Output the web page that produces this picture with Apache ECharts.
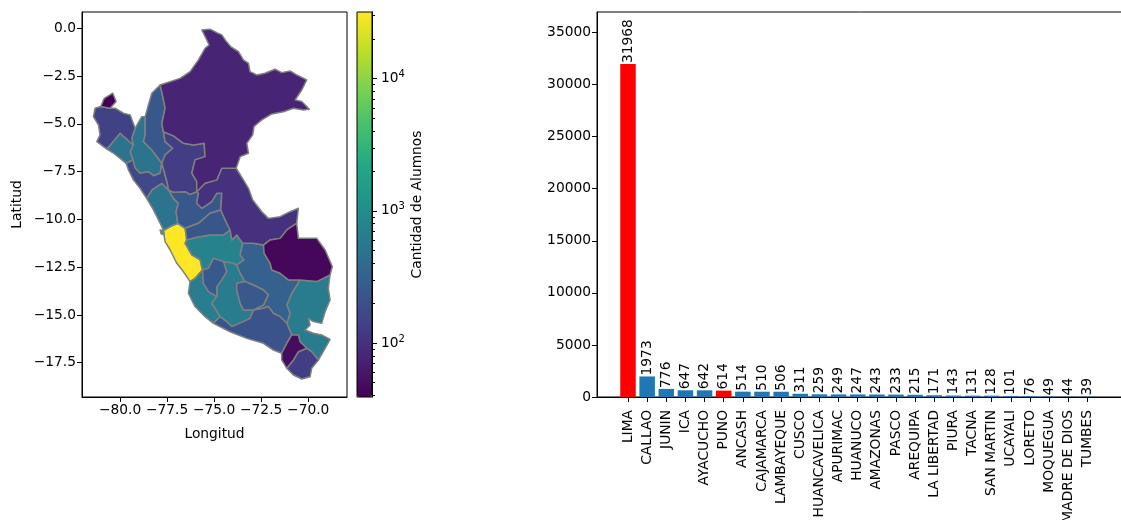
<!DOCTYPE html>
<html><head><meta charset="utf-8">
<style>html,body{margin:0;padding:0;background:#fff;overflow:hidden}#c{width:1121px;height:520px}</style>
<script src="https://cdn.jsdelivr.net/npm/echarts@6/dist/echarts.min.js"></script>
</head><body><div id="c"></div>
<script>
const categories = ['LIMA','CALLAO','JUNIN','ICA','AYACUCHO','PUNO','ANCASH','CAJAMARCA','LAMBAYEQUE','CUSCO','HUANCAVELICA','APURIMAC','HUANUCO','AMAZONAS','PASCO','AREQUIPA','LA LIBERTAD','PIURA','TACNA','SAN MARTIN','UCAYALI','LORETO','MOQUEGUA','MADRE DE DIOS','TUMBES'];
const alumnos = [31968,1973,776,647,642,614,514,510,506,311,259,249,247,243,233,215,171,143,131,128,101,76,49,44,39];
const highlighted = ['LIMA','PUNO'];
const barTicks = [0,5000,10000,15000,20000,25000,30000,35000];
const lonTicks = [-80,-77.5,-75,-72.5,-70];
const latTicks = [0,-2.5,-5,-7.5,-10,-12.5,-15,-17.5];
const cbMajor = [100,1000,10000];
const cbMinor = [40,50,60,70,80,90,200,300,400,500,600,700,800,900,2000,3000,4000,5000,6000,7000,8000,9000,20000,30000];
const viridis = ['#440154','#482475','#414487','#355f8d','#2a788e','#21918c','#22a884','#44bf70','#7ad151','#bddf26','#fde725'];

/* department outlines, [longitude, latitude] */
const TUMBES = [[-80.94,-4.07],[-80.76,-3.64],[-80.31,-3.37],[-80.13,-3.81],[-80.45,-4.16]];
const PIURA = [[-80.94,-4.07],[-81.24,-4.16],[-81.33,-4.60],[-81.06,-5.04],[-80.98,-5.56],[-81.15,-5.91],[-80.62,-6.30],[-79.92,-5.47],[-79.22,-6.09],[-79.31,-5.74],[-79.13,-5.21],[-79.39,-4.51],[-79.75,-4.42],[-80.18,-4.16],[-80.45,-4.16]];
const LAMBAYEQUE = [[-80.62,-6.30],[-79.92,-5.47],[-79.22,-6.09],[-79.39,-6.44],[-79.25,-6.87],[-79.60,-7.05],[-79.92,-6.79],[-80.27,-6.52]];
const LORETO = [[-75.61,-0.05],[-75.18,-0.01],[-74.82,-0.19],[-74.56,-0.31],[-74.35,-0.61],[-74.09,-0.92],[-73.68,-1.19],[-73.42,-1.62],[-73.15,-1.80],[-73.07,-2.24],[-72.72,-2.41],[-72.28,-2.32],[-71.75,-2.11],[-71.40,-2.29],[-70.96,-2.20],[-70.61,-2.41],[-70.08,-2.67],[-70.34,-3.20],[-70.69,-3.72],[-70.34,-3.81],[-69.94,-4.21],[-70.25,-4.25],[-70.78,-4.16],[-71.31,-4.34],[-71.92,-4.46],[-72.45,-4.77],[-72.86,-5.12],[-72.93,-5.56],[-73.24,-6.00],[-73.15,-6.52],[-73.59,-6.70],[-73.80,-7.31],[-74.56,-7.31],[-74.82,-7.92],[-75.44,-8.10],[-75.88,-8.54],[-75.88,-8.01],[-76.14,-7.57],[-75.97,-6.87],[-75.44,-6.70],[-75.49,-6.00],[-76.05,-6.09],[-76.58,-6.00],[-77.11,-5.61],[-77.64,-5.39],[-77.72,-4.95],[-77.55,-4.16],[-77.67,-3.55],[-77.81,-2.94],[-76.76,-2.59],[-76.23,-2.24],[-75.79,-1.62],[-75.44,-1.01],[-75.23,-0.84],[-75.39,-0.49]];
const AMAZONAS = [[-77.81,-2.94],[-77.67,-3.55],[-77.55,-4.16],[-77.72,-4.95],[-77.64,-5.39],[-77.55,-5.91],[-77.14,-6.26],[-77.55,-6.61],[-77.72,-7.05],[-78.25,-6.35],[-78.69,-5.91],[-78.60,-5.56],[-78.60,-4.60],[-78.43,-3.99],[-78.25,-3.37]];
const CAJAMARCA = [[-78.60,-4.60],[-78.60,-5.56],[-78.69,-5.91],[-78.25,-6.35],[-77.72,-7.05],[-77.81,-7.57],[-78.16,-7.70],[-78.43,-7.49],[-78.87,-7.57],[-79.13,-7.31],[-79.25,-6.87],[-79.39,-6.44],[-79.22,-6.09],[-79.31,-5.74],[-79.13,-5.21],[-78.78,-4.60]];
const SAN_MARTIN = [[-77.64,-5.39],[-77.11,-5.61],[-76.58,-6.00],[-76.05,-6.09],[-75.49,-6.00],[-75.44,-6.70],[-75.97,-6.87],[-76.14,-7.57],[-75.88,-8.01],[-75.88,-8.54],[-76.23,-8.68],[-76.49,-8.54],[-77.11,-8.57],[-77.37,-8.45],[-77.43,-8.10],[-77.72,-7.05],[-77.55,-6.61],[-77.14,-6.26],[-77.55,-5.91]];
const LA_LIBERTAD = [[-79.60,-7.05],[-79.25,-6.87],[-79.13,-7.31],[-78.87,-7.57],[-78.43,-7.49],[-78.16,-7.70],[-77.81,-7.57],[-77.72,-7.05],[-77.43,-8.10],[-77.37,-8.45],[-77.72,-8.10],[-78.25,-8.45],[-78.52,-8.89],[-78.87,-8.36],[-79.22,-7.92],[-79.48,-7.40]];
const ANCASH = [[-77.72,-8.10],[-77.37,-8.45],[-77.11,-8.89],[-76.85,-9.15],[-76.97,-9.59],[-76.88,-10.20],[-77.28,-10.37],[-77.64,-10.58],[-77.72,-10.37],[-78.16,-9.50],[-78.52,-8.89],[-78.25,-8.45]];
const HUANUCO = [[-77.37,-8.45],[-77.11,-8.57],[-76.49,-8.54],[-76.23,-8.68],[-75.88,-8.54],[-75.79,-8.62],[-75.88,-9.15],[-75.61,-9.41],[-75.09,-9.06],[-74.82,-8.62],[-74.56,-8.62],[-74.61,-9.50],[-75.18,-9.67],[-75.79,-10.20],[-76.49,-10.46],[-76.88,-10.20],[-76.97,-9.59],[-76.85,-9.15],[-77.11,-8.89]];
const PASCO = [[-76.49,-10.46],[-75.79,-10.20],[-75.18,-9.67],[-74.61,-9.50],[-74.38,-10.02],[-74.12,-10.55],[-74.47,-10.81],[-75.18,-10.81],[-75.88,-10.93],[-76.41,-11.07]];
const JUNIN = [[-76.41,-11.07],[-75.88,-10.93],[-75.18,-10.81],[-74.47,-10.81],[-74.12,-10.55],[-74.03,-11.07],[-73.77,-10.81],[-73.45,-11.25],[-73.59,-11.86],[-73.38,-12.12],[-73.77,-12.39],[-74.47,-12.21],[-75.00,-12.04],[-75.26,-12.56],[-75.58,-12.65],[-75.70,-12.12],[-76.14,-11.86],[-76.49,-11.25]];
const LIMA = [[-76.88,-10.20],[-76.49,-10.46],[-76.41,-11.07],[-76.49,-11.25],[-76.14,-11.86],[-75.70,-12.12],[-75.58,-12.65],[-75.97,-13.09],[-76.23,-13.26],[-76.58,-12.74],[-76.93,-12.30],[-77.28,-11.60],[-77.55,-11.16],[-77.64,-10.58],[-77.28,-10.37]];
const CALLAO = [[-77.81,-10.55],[-77.64,-10.58],[-77.60,-10.80],[-77.76,-10.75]];
const HUANCAVELICA = [[-75.00,-12.04],[-74.47,-12.21],[-74.30,-12.74],[-74.56,-13.17],[-74.82,-13.52],[-74.82,-14.05],[-75.26,-13.79],[-75.53,-13.35],[-75.58,-12.65],[-75.26,-12.56]];
const ICA = [[-75.97,-13.09],[-75.58,-12.65],[-75.53,-13.35],[-75.26,-13.79],[-74.82,-14.05],[-75.09,-14.40],[-74.91,-14.66],[-74.65,-15.10],[-75.00,-15.45],[-75.44,-15.10],[-75.97,-14.57],[-76.32,-13.87],[-76.23,-13.26]];
const AYACUCHO = [[-74.47,-12.21],[-73.95,-12.30],[-73.77,-12.39],[-73.59,-12.82],[-73.33,-13.26],[-73.77,-13.35],[-73.77,-13.70],[-73.59,-14.40],[-73.42,-14.75],[-72.89,-14.75],[-73.07,-15.19],[-73.42,-15.36],[-74.03,-15.62],[-74.30,-15.36],[-74.65,-15.10],[-74.91,-14.66],[-75.09,-14.40],[-74.82,-14.05],[-74.82,-13.52],[-74.56,-13.17],[-74.30,-12.74]];
const APURIMAC = [[-73.77,-13.35],[-73.33,-13.26],[-72.89,-13.44],[-72.36,-13.70],[-72.10,-13.96],[-72.36,-14.49],[-72.89,-14.75],[-73.42,-14.75],[-73.59,-14.40],[-73.77,-13.70]];
const CUSCO = [[-73.45,-11.25],[-72.89,-11.25],[-72.36,-11.34],[-72.33,-11.77],[-72.01,-12.30],[-71.92,-12.65],[-71.48,-12.82],[-71.05,-13.17],[-70.43,-13.17],[-70.87,-13.87],[-71.13,-14.49],[-70.96,-14.92],[-71.13,-15.45],[-71.48,-15.10],[-71.84,-14.92],[-72.10,-14.57],[-72.36,-14.66],[-72.89,-14.75],[-72.36,-14.49],[-72.10,-13.96],[-72.36,-13.70],[-72.89,-13.44],[-73.33,-13.26],[-73.59,-12.82],[-73.77,-12.39],[-73.38,-12.12],[-73.59,-11.86]];
const MADRE_DE_DIOS = [[-70.61,-10.20],[-70.52,-10.99],[-69.55,-10.99],[-69.11,-11.60],[-68.73,-12.47],[-68.85,-12.91],[-69.55,-13.26],[-70.43,-13.17],[-71.05,-13.17],[-71.48,-12.82],[-71.92,-12.65],[-72.01,-12.30],[-72.33,-11.77],[-72.36,-11.34],[-72.01,-11.07],[-71.48,-10.99],[-71.13,-10.55]];
const UCAYALI = [[-74.56,-7.31],[-73.80,-7.31],[-73.42,-7.92],[-73.15,-8.36],[-72.93,-8.97],[-72.45,-9.59],[-72.10,-9.94],[-71.48,-9.85],[-70.96,-9.59],[-70.52,-9.41],[-70.61,-10.20],[-71.13,-10.55],[-71.48,-10.99],[-72.01,-11.07],[-72.36,-11.34],[-72.89,-11.25],[-73.45,-11.25],[-73.77,-10.81],[-74.03,-11.07],[-74.12,-10.55],[-74.38,-10.02],[-74.61,-9.50],[-74.56,-8.62],[-74.82,-8.62],[-75.09,-9.06],[-75.61,-9.41],[-75.88,-9.15],[-75.79,-8.62],[-75.88,-8.54],[-75.44,-8.10],[-74.82,-7.92]];
const PUNO = [[-70.43,-13.17],[-69.55,-13.26],[-68.85,-12.91],[-68.94,-13.61],[-68.85,-14.22],[-69.11,-14.84],[-69.29,-15.45],[-69.73,-15.36],[-69.99,-15.19],[-69.90,-15.54],[-70.17,-15.80],[-69.73,-15.97],[-69.29,-16.06],[-68.85,-16.29],[-69.06,-16.67],[-69.46,-17.37],[-69.82,-16.94],[-70.08,-16.76],[-70.43,-16.41],[-70.52,-16.06],[-70.87,-16.06],[-71.13,-15.45],[-70.96,-14.92],[-71.13,-14.49],[-70.87,-13.87]];
const MOQUEGUA = [[-70.87,-16.06],[-70.52,-16.06],[-70.43,-16.41],[-70.08,-16.76],[-70.52,-16.94],[-70.78,-17.37],[-71.13,-17.81],[-71.40,-17.37],[-71.40,-17.02],[-71.13,-16.50]];
const TACNA = [[-70.08,-16.76],[-69.82,-16.94],[-69.46,-17.37],[-69.82,-17.81],[-69.90,-18.25],[-70.34,-18.37],[-70.78,-18.16],[-71.13,-17.81],[-70.78,-17.37],[-70.52,-16.94]];
const AREQUIPA = [[-75.00,-15.45],[-74.65,-15.10],[-74.30,-15.36],[-74.03,-15.62],[-73.42,-15.36],[-73.07,-15.19],[-72.89,-14.75],[-72.36,-14.66],[-72.10,-14.57],[-71.84,-14.92],[-71.48,-15.10],[-71.13,-15.45],[-70.87,-16.06],[-71.13,-16.50],[-71.40,-17.02],[-71.84,-16.85],[-72.36,-16.50],[-73.24,-16.24],[-74.12,-15.89]];

const outlines = {LIMA,CALLAO,JUNIN,ICA,AYACUCHO,PUNO,ANCASH,CAJAMARCA,LAMBAYEQUE,CUSCO,HUANCAVELICA,APURIMAC,HUANUCO,AMAZONAS,PASCO,AREQUIPA,'LA LIBERTAD':LA_LIBERTAD,PIURA,TACNA,'SAN MARTIN':SAN_MARTIN,UCAYALI,LORETO,MOQUEGUA,'MADRE DE DIOS':MADRE_DE_DIOS,TUMBES};
/* the outlines were read with slightly rough axis ticks: calibrate against the exact ones */
const calibrate = p => [p[0]*1.00743+0.52, p[1]*0.99686-0.037];

const ink = '#000', font = 'DejaVu Sans', fs = 13.8;
const minus = v => v.toFixed(1).replace('-', '\u2212');
const log = Math.log10;
const axisBase = {axisLine:{show:true,onZero:false,lineStyle:{color:ink,width:1}},splitLine:{show:false},
  axisTick:{show:true,inside:false,length:5,lineStyle:{color:ink,width:1}}};
const lbl = o => Object.assign({color:ink,fontFamily:font,fontSize:fs,margin:6,hideOverlap:false,showMinLabel:true,showMaxLabel:true},o);
const nm = {color:ink,fontFamily:font,fontSize:fs};
const barPos = categories.map((c,i)=>i);

const chart = echarts.init(document.getElementById('c'),null,{renderer:'canvas'});
chart.setOption({
  animation:false,backgroundColor:'#fff',
  grid:[
    {left:82,top:12,width:265,height:385,show:true,borderColor:ink,borderWidth:1,z:5,outerBoundsMode:'none',containLabel:false},
    {left:597,top:12,width:530,height:385,show:true,borderColor:ink,borderWidth:1,outerBoundsMode:'none',containLabel:false},
    {left:357,top:12,width:15,height:385,show:true,borderColor:ink,borderWidth:1,z:5,outerBoundsMode:'none',containLabel:false}
  ],
  xAxis:[
    Object.assign({},axisBase,{type:'value',gridIndex:0,min:-82.02,max:-67.94,name:'Longitud',nameLocation:'middle',nameGap:30,nameTextStyle:nm,
      axisTick:Object.assign({},axisBase.axisTick,{customValues:lonTicks}),
      axisLabel:lbl({customValues:lonTicks,formatter:minus})}),
    Object.assign({},axisBase,{type:'value',gridIndex:1,min:-1.62,max:26.07,
      axisTick:Object.assign({},axisBase.axisTick,{customValues:barPos}),
      axisLabel:lbl({customValues:barPos,rotate:90,margin:13,formatter:v=>categories[v]})}),
    {type:'value',gridIndex:2,min:0,max:1,show:false}
  ],
  yAxis:[
    Object.assign({},axisBase,{type:'value',gridIndex:0,min:-19.293,max:0.853,name:'Latitud',nameLocation:'middle',nameGap:58,nameRotate:90,nameTextStyle:nm,
      axisTick:Object.assign({},axisBase.axisTick,{customValues:latTicks}),
      axisLabel:lbl({customValues:latTicks,formatter:minus})}),
    Object.assign({},axisBase,{type:'value',gridIndex:1,min:0,max:36960,
      axisTick:Object.assign({},axisBase.axisTick,{customValues:barTicks}),
      axisLabel:lbl({customValues:barTicks,formatter:v=>String(v)})}),
    Object.assign({},axisBase,{type:'value',gridIndex:2,position:'right',min:log(39),max:log(31968),
      name:'Cantidad de Alumnos',nameLocation:'middle',nameGap:38,nameRotate:90,nameTextStyle:nm,
      axisTick:Object.assign({},axisBase.axisTick,{customValues:cbMajor.map(log)}),
      axisLabel:lbl({margin:9,customValues:cbMajor.map(log),formatter:v=>'{b|10}{s|'+Math.round(v)+'}',
        rich:{b:{fontSize:fs,fontFamily:font,color:ink},s:{fontSize:10,fontFamily:font,color:ink,padding:[0,0,8,0]}}})}),
    Object.assign({},axisBase,{type:'value',gridIndex:2,position:'right',min:log(39),max:log(31968),
      axisTick:Object.assign({},axisBase.axisTick,{length:3,customValues:cbMinor.map(log)}),
      axisLabel:{show:false}})
  ],
  visualMap:[{type:'continuous',seriesIndex:0,dimension:0,min:log(39),max:log(31968),calculable:false,hoverLink:false,
    left:357,top:12,padding:0,itemWidth:15,itemHeight:385,z:1,inRange:{color:viridis},text:null,textStyle:{color:'transparent'}}],
  series:[
    {type:'custom',coordinateSystem:'cartesian2d',xAxisIndex:0,yAxisIndex:0,
     dimensions:['logAlumnos'],encode:{},
     data:categories.map((c,i)=>({name:c,value:[log(alumnos[i])]})),
     renderItem:(params,api)=>({type:'polygon',
       shape:{points:outlines[categories[params.dataIndex]].map(p=>api.coord(calibrate(p)))},
       style:{fill:api.visual('color'),stroke:'#808080',lineWidth:1.5,lineJoin:'round'}})},
    {type:'bar',xAxisIndex:1,yAxisIndex:1,barWidth:15.5,
     data:categories.map((c,i)=>({value:[i,alumnos[i]],itemStyle:{color:highlighted.includes(c)?'#ff0000':'#1f77b4'}})),
     label:{show:true,position:'top',rotate:90,align:'left',verticalAlign:'middle',distance:1,color:ink,fontFamily:font,fontSize:fs,
       formatter:p=>String(p.value[1])}}
  ]
});
</script></body></html>
